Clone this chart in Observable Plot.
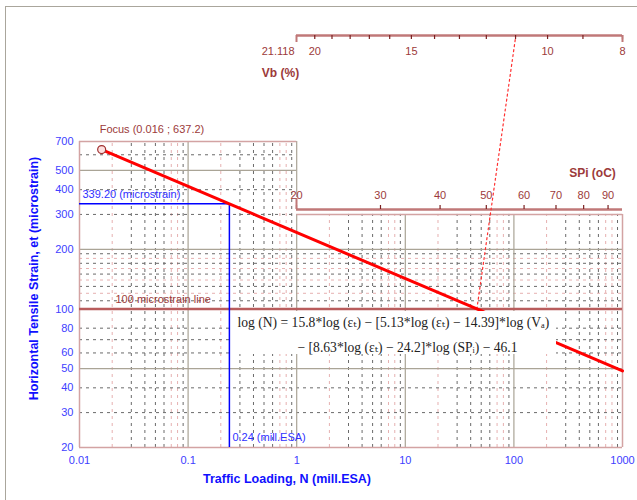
<!DOCTYPE html>
<html><head><meta charset="utf-8">
<script src="https://cdn.jsdelivr.net/npm/d3@7"></script>
<script src="https://cdn.jsdelivr.net/npm/@observablehq/plot@0.6"></script>
<style>
body{margin:0;background:#fff;}
#wrap{position:relative;width:637px;height:500px;overflow:hidden;background:#fff;}
#border{position:absolute;left:5px;top:6px;width:700px;height:600px;border-left:1px solid #aaa69c;border-top:1px solid #aaa69c;pointer-events:none;}
#wrap svg{position:absolute;left:0;top:0;}
</style></head><body><div id="wrap"><div id="border"></div></div>
<script>
// ---------- data ----------
const xTicks = [0.01, 0.1, 1, 10, 100, 1000];
const yTicks = [20, 30, 40, 50, 60, 80, 100, 200, 300, 400, 500, 700];
const curveN = [0.016, 0.24, 45.6, 1000];
const curveE = [637.2, 339.2, 100, 48.7];
const focus = {N: 0.016, e: 637.2};
const design = {N: 0.24, e: 339.2};
const limitStrain = 100;
const vbDomain = [21.118, 8];
const vbTicks = [20, 19, 18, 17, 16, 15, 14, 13, 12, 11, 10, 9, 8];
const vbLabels = [20, 15, 10, 8];
const vbValue = 11;
const spiDomain = [20, 96.5];
const spiTicks = [20, 30, 40, 50, 60, 70, 80, 90];
const decades = [0.01, 0.1, 1, 10, 100];
const minorMults = [2, 3, 4, 5, 6, 7, 8, 9];
const pinkMults = [2, 7, 8];
const majorX = [0.1, 1, 10, 100];
const solidY = [50, 200, 500];
const dashYDark = [30, 40, 60, 70, 80, 110, 130, 150, 170, 190, 300, 400, 600];
const dashYPink = [120, 140, 160, 180];
const eq1 = "log (N) = 15.8*log (εₜ) − [5.13*log (εₜ) − 14.39]*log (Vₐ)";
const eq2 = "− [8.63*log (εₜ) − 24.2]*log (SPᵢ) − 46.1";
const xTitle = "Traffic Loading, N (mill.ESA)";
const yTitle = "Horizontal Tensile Strain, et (microstrain)";

// ---------- layout ----------
const W = 637, H = 500, X0 = 79, X1 = 622, Y0 = 447, Y1 = 141;
const SPLIT_N = 1, RIGHT_TOP = 300;
const sx = Plot.scale({x: {type: "log", domain: [0.01, 1000], range: [X0, X1]}});
const sy = Plot.scale({y: {type: "log", domain: [20, 700], range: [Y0, Y1]}});
const svb = Plot.scale({x: {type: "log", domain: vbDomain, range: [296, X1]}});
const ssp = Plot.scale({x: {type: "log", domain: spiDomain, range: [296, X1]}});
const nPx = px => sx.invert(px);
const ePx = py => sy.invert(py);
const vbN = v => sx.invert(svb.apply(v));
const spN = v => sx.invert(ssp.apply(v));
const VB_Y = 35, SPI_Y = 209;

const curve = curveN.map((n, i) => ({N: n, e: curveE[i]}));
const minor = [];
decades.forEach(d => minorMults.forEach(m => minor.push({N: d * m, m})));
const vTop = n => n < SPLIT_N ? 700 : RIGHT_TOP;
const hRight = v => v > RIGHT_TOP ? SPLIT_N : 1000;
const hRightDash = v => v >= RIGHT_TOP ? SPLIT_N : 1000;

const DARKRED = "#9c3a3a", BLUE = "#2f2fff", FRAME = "#d3a3a3", MAJOR = "#aaa496";
const GRID = "#6a6a6a", PINK = "#e6b0b0", DASH = "3,4";
const dotted = [{N: curveN[2], e: curveE[2]}, {N: vbN(vbValue), e: ePx(VB_Y + 2)}];
const SERIF = "'Liberation Serif', 'DejaVu Serif', serif";

const chart = Plot.plot({
  width: W, height: H,
  marginLeft: X0, marginRight: W - X1, marginTop: Y1, marginBottom: H - Y0,
  x: {type: "log", domain: [0.01, 1000], range: [X0, X1]},
  y: {type: "log", domain: [20, 700], range: [Y0, Y1], axis: null},
  style: {background: "transparent", fontFamily: "'Liberation Sans', Arial, sans-serif", fontSize: "11px", overflow: "visible"},
  marks: [
    // grid
    Plot.ruleX(minor.filter(g => !pinkMults.includes(g.m)), {x: "N", y1: 20, y2: g => vTop(g.N), stroke: GRID, strokeDasharray: DASH, strokeWidth: 1}),
    Plot.ruleX(minor.filter(g => pinkMults.includes(g.m)), {x: "N", y1: 20, y2: g => vTop(g.N), stroke: PINK, strokeDasharray: DASH, strokeWidth: 1}),
    Plot.ruleY(dashYDark, {y: d => d, x1: 0.01, x2: hRightDash, stroke: GRID, strokeDasharray: DASH, strokeWidth: 1}),
    Plot.ruleY(dashYPink, {y: d => d, x1: 0.01, x2: hRightDash, stroke: PINK, strokeDasharray: DASH, strokeWidth: 1}),
    Plot.ruleX(majorX, {x: d => d, y1: 20, y2: d => vTop(d), stroke: MAJOR, strokeWidth: 1.2}),
    Plot.ruleX([1], {x: d => d, y1: 700, y2: ePx(SPI_Y - 12), stroke: MAJOR, strokeWidth: 1.2}),
    Plot.ruleY(solidY, {y: d => d, x1: 0.01, x2: hRight, stroke: MAJOR, strokeWidth: 1.2}),
    // frame (L-shaped)
    Plot.ruleY([700], {y: d => d, x1: 0.01, x2: SPLIT_N, stroke: FRAME, strokeWidth: 1.5}),
    Plot.ruleY([RIGHT_TOP], {y: d => d, x1: SPLIT_N, x2: 1000, stroke: FRAME, strokeWidth: 1.5}),
    Plot.ruleY([20], {y: d => d, x1: 0.01, x2: 1000, stroke: FRAME, strokeWidth: 1.5}),
    Plot.ruleX([0.01], {x: d => d, y1: 20, y2: 700, stroke: FRAME, strokeWidth: 1.5}),
    Plot.ruleX([1000], {x: d => d, y1: 20, y2: RIGHT_TOP, stroke: FRAME, strokeWidth: 1.5}),
    // 100 microstrain line
    Plot.ruleY([limitStrain], {y: d => d, x1: 0.01, x2: 1000, stroke: "#b85c5c", strokeWidth: 2.5}),
    // design point guides
    Plot.ruleY([design], {y: "e", x1: 0.01, x2: "N", stroke: "#0000ff", strokeWidth: 1.5}),
    Plot.ruleX([design], {x: "N", y1: 20, y2: "e", stroke: "#0000ff", strokeWidth: 1.5}),
    // SPi axis
    Plot.ruleY([0], {y: () => ePx(SPI_Y), x1: spN(spiDomain[0]), x2: 1000, stroke: "#c07878", strokeWidth: 2.5}),
    Plot.ruleX(spiTicks, {x: d => spN(d), y1: ePx(SPI_Y), y2: ePx(SPI_Y - 4), stroke: "#7a2020", strokeWidth: 1.2}),
    Plot.ruleX([spiDomain[0]], {x: d => spN(d), y1: ePx(SPI_Y), y2: ePx(SPI_Y - 11), stroke: "#c07878", strokeWidth: 2}),
    Plot.text(spiTicks, {x: d => spN(d), y: () => ePx(SPI_Y - 14), text: d => String(d), fill: DARKRED, fontSize: 11}),
    Plot.text(["SPi (oC)"], {x: () => nPx(592), y: () => ePx(SPI_Y - 36), text: d => d, fill: DARKRED, fontWeight: "bold", fontSize: 12}),
    // Vb axis
    Plot.ruleY([0], {y: () => ePx(VB_Y), x1: vbN(vbDomain[0]), x2: vbN(vbDomain[1]), stroke: "#c07878", strokeWidth: 2.5}),
    Plot.ruleX(vbTicks, {x: d => vbN(d), y1: ePx(VB_Y), y2: ePx(VB_Y + 4), stroke: "#7a2020", strokeWidth: 1.2}),
    Plot.ruleX(vbDomain, {x: d => vbN(d), y1: ePx(VB_Y), y2: ePx(VB_Y + 7), stroke: "#c07878", strokeWidth: 2}),
    Plot.text(vbLabels, {x: d => vbN(d), y: () => ePx(VB_Y + 16), text: d => String(d), fill: DARKRED, fontSize: 11}),
    Plot.text([vbDomain[0]], {x: d => vbN(d), y: () => ePx(VB_Y + 16), text: d => String(d), textAnchor: "end", dx: -2, fill: DARKRED, fontSize: 11}),
    Plot.text(["Vb (%)"], {x: () => vbN(vbDomain[0]), y: () => ePx(VB_Y + 38), text: d => d, dx: -16, fill: DARKRED, fontWeight: "bold", fontSize: 12}),
    // dotted construction line
    Plot.line(dotted, {x: "N", y: "e", stroke: "#ff3030", strokeWidth: 1.2, strokeDasharray: "2,3"}),
    // main fatigue line
    Plot.line(curve, {x: "N", y: "e", stroke: "#ff0000", strokeWidth: 3}),
    // equation box
    Plot.rect([0], {x1: () => nPx(232), x2: () => nPx(556), y1: () => ePx(311), y2: () => ePx(354), fill: "#ffffff"}),
    Plot.text([eq1], {x: () => nPx(237), y: () => ePx(322), text: d => d, textAnchor: "start", fill: "#222", fontSize: 13.6, fontFamily: SERIF}),
    Plot.text([eq2], {x: () => nPx(297), y: () => ePx(347), text: d => d, textAnchor: "start", fill: "#222", fontSize: 13.6, fontFamily: SERIF}),
    // focus point
    Plot.dot([focus], {x: "N", y: "e", r: 4, stroke: "#a03030", fill: "#fde0e0", strokeWidth: 1.2}),
    // annotations
    Plot.text([focus], {x: "N", y: "e", text: d => `Focus (${d.N} ; ${d.e})`, textAnchor: "start", dx: -2, dy: -20, fill: DARKRED, fontSize: 11}),
    Plot.text([design], {x: () => 0.01, y: "e", text: d => `${d.e.toFixed(2)} (microstrain)`, textAnchor: "start", dx: 3, dy: -9, fill: BLUE, fontSize: 11}),
    Plot.text([design], {x: "N", y: () => 20, text: d => `${d.N} (mill.ESA)`, textAnchor: "start", dx: 3, dy: -10, fill: BLUE, fontSize: 11}),
    Plot.text([limitStrain], {x: () => 0.01, y: d => d, text: d => `${d} microstrain line`, textAnchor: "start", dx: 36, dy: -10, fill: DARKRED, fontSize: 11}),
    // axes
    Plot.axisX({ticks: xTicks, tickFormat: d => String(d), tickSize: 0, tickPadding: 9, fill: "#4040ff", label: null, fontSize: 11}),
    Plot.text(yTicks, {x: () => 0.01, y: d => d, text: d => String(d), textAnchor: "end", dx: -6, fill: "#4040ff", fontSize: 11}),
    Plot.text([xTitle], {frameAnchor: "bottom", text: d => d, lineAnchor: "middle", textAnchor: "middle", dx: -64, dy: 31, fill: "#1010ff", fontWeight: "bold", fontSize: 12.5}),
    Plot.text([yTitle], {frameAnchor: "left", text: d => d, rotate: -90, textAnchor: "middle", lineAnchor: "middle", dx: -46, dy: -16, fill: "#1010ff", fontWeight: "bold", fontSize: 12.5})
  ]
});
document.getElementById("wrap").appendChild(chart);
</script>
</body></html>
